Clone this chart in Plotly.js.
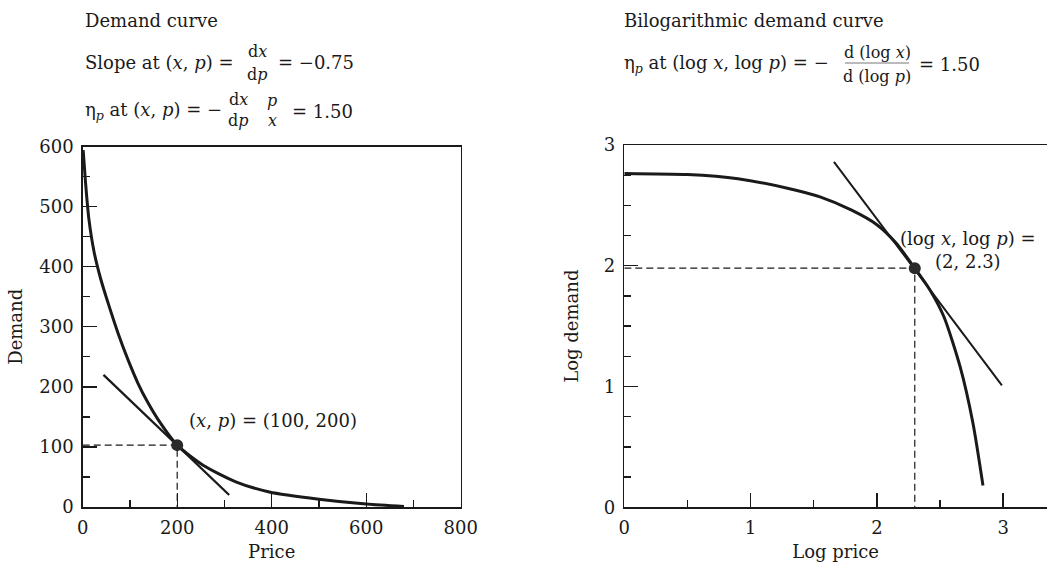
<!DOCTYPE html>
<html>
<head>
<meta charset="utf-8">
<script src="https://cdn.plot.ly/plotly-3.0.1.min.js"></script>
<style>html,body{margin:0;padding:0;background:#fff;}#chart{width:1047px;height:567px;}</style>
</head>
<body>
<div id="chart"></div>
<script>
// ---- Data ----
// Left panel: demand curve (price on x, demand on y)
const priceL  = [1, 6, 13, 24, 38, 54, 75, 96, 117, 135, 160, 200, 254, 324, 395, 500, 600, 680];
const demandL = [594, 540, 480, 425, 380, 339, 289, 245, 206, 178, 145, 103, 70, 42, 25, 13, 5, 1];
const tangentLPrice  = [44, 310];
const tangentLDemand = [220, 20];
const pointLPrice  = [200];
const pointLDemand = [103];
const xTicksL = [0, 200, 400, 600, 800];
const yTicksL = [0, 100, 200, 300, 400, 500, 600];

// Right panel: bilogarithmic demand curve
const logPrice  = [0, 0.5, 0.9, 1.3, 1.55, 1.8, 2.0, 2.15, 2.30, 2.42, 2.53, 2.66, 2.76, 2.84];
const logDemand = [2.765, 2.755, 2.72, 2.64, 2.57, 2.46, 2.34, 2.19, 1.98, 1.80, 1.58, 1.16, 0.70, 0.18];
const tangentRPrice  = [1.66, 2.99];
const tangentRDemand = [2.86, 1.01];
const pointRPrice  = [2.30];
const pointRDemand = [1.98];
const xTicksR = [0, 1, 2, 3];
const yTicksR = [0, 1, 2, 3];

// ---- Helpers ----
const W = 1047, H = 567;
const FONT = 'DejaVu Serif';
const INK = '#1a1a1a';
const px = x => x / W;
const py = y => 1 - y / H;

function ann(text, x, y, size, xanchor, extra) {
  return Object.assign({
    text: text, x: px(x), y: py(y), xref: 'paper', yref: 'paper',
    xanchor: xanchor || 'left', yanchor: 'middle', showarrow: false,
    font: {family: FONT, size: size || 18, color: INK}
  }, extra || {});
}

const traces = [
  // left panel
  {x: priceL, y: demandL, xaxis: 'x', yaxis: 'y', mode: 'lines',
   line: {color: INK, width: 3, shape: 'spline', smoothing: 0.7}, hoverinfo: 'skip'},
  {x: tangentLPrice, y: tangentLDemand, xaxis: 'x', yaxis: 'y', mode: 'lines',
   line: {color: INK, width: 2.3}, hoverinfo: 'skip'},
  {x: [0, pointLPrice[0], pointLPrice[0]], y: [pointLDemand[0], pointLDemand[0], 0], xaxis: 'x', yaxis: 'y',
   mode: 'lines', line: {color: INK, width: 1.2, dash: '7px,4px'}, hoverinfo: 'skip'},
  {x: pointLPrice, y: pointLDemand, xaxis: 'x', yaxis: 'y', mode: 'markers',
   marker: {color: '#2a2a2a', size: 12}, hoverinfo: 'skip'},
  // right panel
  {x: logPrice, y: logDemand, xaxis: 'x2', yaxis: 'y2', mode: 'lines',
   line: {color: INK, width: 3, shape: 'spline', smoothing: 0.7}, hoverinfo: 'skip'},
  {x: tangentRPrice, y: tangentRDemand, xaxis: 'x2', yaxis: 'y2', mode: 'lines',
   line: {color: INK, width: 2}, hoverinfo: 'skip'},
  {x: [0, pointRPrice[0], pointRPrice[0]], y: [pointRDemand[0], pointRDemand[0], 0], xaxis: 'x2', yaxis: 'y2',
   mode: 'lines', line: {color: INK, width: 1.2, dash: '7px,4px'}, hoverinfo: 'skip'},
  {x: pointRPrice, y: pointRDemand, xaxis: 'x2', yaxis: 'y2', mode: 'markers',
   marker: {color: '#2a2a2a', size: 12}, hoverinfo: 'skip'}
];

const axisCommon = {
  showgrid: false, zeroline: false, showline: true, linecolor: INK, linewidth: 1.5,
  ticks: 'inside', ticklen: 14, tickwidth: 1.4, tickcolor: INK,
  tickfont: {family: FONT, size: 18, color: INK}, ticklabelstandoff: 4
};

const layout = {
  width: W, height: H, showlegend: false,
  margin: {l: 0, r: 0, t: 0, b: 0},
  paper_bgcolor: '#fff', plot_bgcolor: '#fff',
  font: {family: FONT, size: 18, color: INK},
  xaxis: Object.assign({}, axisCommon, {
    domain: [px(82.7), px(460.7)], range: [0, 800], anchor: 'y', mirror: true,
    tickvals: xTicksL, ticktext: xTicksL.map(String),
    minor: {dtick: 100, ticks: 'inside', ticklen: 7, tickwidth: 1.3, tickcolor: INK, showgrid: false},
    title: {text: 'Price', standoff: 8, font: {family: FONT, size: 18, color: INK}}
  }),
  yaxis: Object.assign({}, axisCommon, {
    domain: [py(507), py(146.6)], range: [0, 600], anchor: 'x', mirror: true,
    tickvals: yTicksL, ticktext: yTicksL.map(String),
    minor: {dtick: 50, ticks: 'inside', ticklen: 7, tickwidth: 1.3, tickcolor: INK, showgrid: false},
    title: {text: 'Demand', standoff: 12, font: {family: FONT, size: 18, color: INK}}
  }),
  xaxis2: Object.assign({}, axisCommon, {
    domain: [px(624.3), 1], range: [0, 3.347], anchor: 'y2', mirror: true,
    tickvals: xTicksR, ticktext: xTicksR.map(String),
    minor: {dtick: 0.5, ticks: 'inside', ticklen: 7, tickwidth: 1.3, tickcolor: INK, showgrid: false},
    title: {text: 'Log price', standoff: 8, font: {family: FONT, size: 18, color: INK}}
  }),
  yaxis2: Object.assign({}, axisCommon, {
    domain: [py(507.3), py(145)], range: [0, 3], anchor: 'x2', mirror: false,
    tickvals: yTicksR, ticktext: yTicksR.map(String),
    minor: {dtick: 0.25, ticks: 'inside', ticklen: 7, tickwidth: 1.3, tickcolor: INK, showgrid: false},
    title: {text: 'Log demand', standoff: 20, font: {family: FONT, size: 18, color: INK}}
  }),
  shapes: [
    {type: 'line', xref: 'paper', yref: 'paper', x0: px(845), x1: px(909), y0: py(63), y1: py(63),
     line: {color: '#777', width: 1}}
  ],
  annotations: [
    ann('Demand curve', 83, 20),
    ann('Slope at (<i>x</i>, <i>p</i>) =', 83, 62),
    ann('d<i>x</i>', 257, 51, 16, 'center'),
    ann('d<i>p</i>', 257, 74, 16, 'center'),
    ann('= −0.75', 276, 62),
    ann('η<sub><i>p</i></sub> at (<i>x</i>, <i>p</i>) = −', 83, 111),
    ann('d<i>x</i>', 238, 99, 16, 'center'),
    ann('d<i>p</i>', 238, 120, 16, 'center'),
    ann('<i>p</i>', 272, 100, 16, 'center'),
    ann('<i>x</i>', 272, 121, 16, 'center'),
    ann('= 1.50', 290, 111),
    ann('Bilogarithmic demand curve', 622, 20),
    ann('η<sub><i>p</i></sub> at (log <i>x</i>, log <i>p</i>) = −', 622, 64),
    ann('d (log <i>x</i>)', 877, 52, 16, 'center'),
    ann('d (log <i>p</i>)', 877, 76, 16, 'center'),
    ann('= 1.50', 917, 64),
    ann('(<i>x</i>, <i>p</i>) = (100, 200)', 187, 420),
    ann('(log <i>x</i>, log <i>p</i>) =<br>(2, 2.3)', 968, 250, 18, 'center', {align: 'center'})
  ]
};

Plotly.newPlot('chart', traces, layout, {staticPlot: true, displayModeBar: false});
</script>
</body>
</html>
